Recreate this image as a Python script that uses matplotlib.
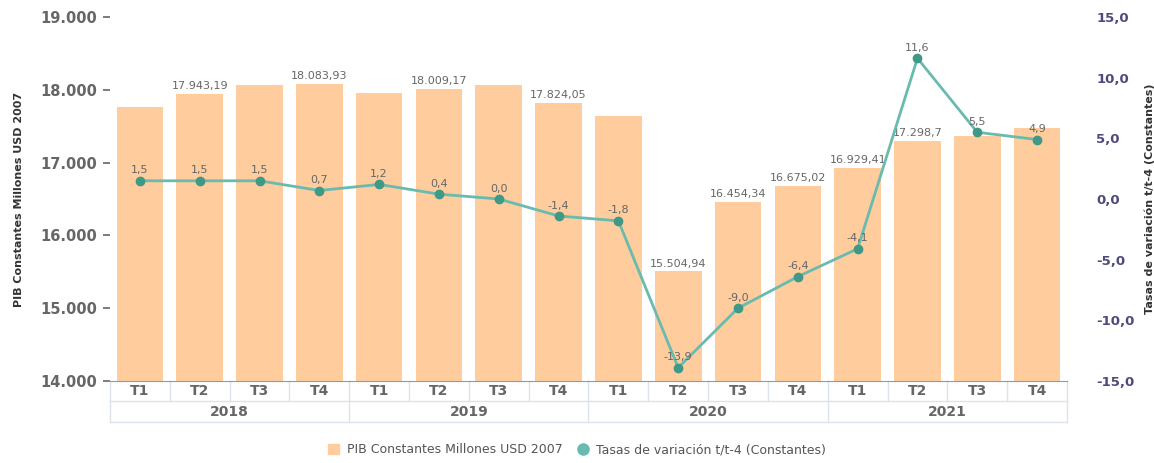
import matplotlib.pyplot as plt
from matplotlib.lines import Line2D
from matplotlib.patches import Patch
import numpy as np

# Data
quarters = ['T1', 'T2', 'T3', 'T4'] * 4
years = ['2018', '2019', '2020', '2021']
pib = [17760, 17943.19, 18060, 18083.93,
       17960, 18009.17, 18068, 17824.05,
       17640, 15504.94, 16454.34, 16675.02,
       16929.41, 17298.7, 17370, 17480]
tasas = [1.5, 1.5, 1.5, 0.7,
         1.2, 0.4, 0.0, -1.4,
         -1.8, -13.9, -9.0, -6.4,
         -4.1, 11.6, 5.5, 4.9]
# bars whose value label is visible in the original
pib_labeled = [1, 3, 5, 7, 9, 10, 11, 12, 13]

bar_color = '#FFCC9E'
line_color = '#68BBAE'
marker_color = '#3F9987'
grey = '#666666'
purple = '#4E4B7C'


def fmt_es(v, dec):
    s = f"{v:,.{dec}f}"
    s = s.replace(',', 'X').replace('.', ',').replace('X', '.')
    return s


def fmt_pib(v):
    s = fmt_es(v, 2)
    if s.endswith('0'):
        s = s[:-1]
    return s


fig = plt.figure(figsize=(11.54, 4.63), dpi=100)
ax = fig.add_axes([0.0953, 0.1771, 0.8293, 0.7862])
ax2 = ax.twinx()

x = np.arange(len(pib))
ax.bar(x, pib, width=0.78, color=bar_color, zorder=2)
ax.set_ylim(14000, 19000)
ax.set_xlim(-0.5, len(pib) - 0.5)
ax.set_yticks([14000, 15000, 16000, 17000, 18000, 19000])
ax.set_yticklabels([fmt_es(v, 0) for v in ax.get_yticks()],
                   fontsize=10.5, fontweight='bold', color=grey)
ax.tick_params(axis='y', length=5, width=1.2, color=grey, pad=4)
ax.set_xticks([])
for s in ['top', 'left', 'right']:
    ax.spines[s].set_visible(False)
ax.spines['bottom'].set_color('#8a9bb0')
ax.spines['bottom'].set_zorder(5)
ax.set_ylabel('PIB Constantes Millones USD 2007', fontsize=8,
              fontweight='bold', color='#333333', labelpad=12)

for i in pib_labeled:
    ax.text(x[i], pib[i] + 40, fmt_pib(pib[i]), ha='center', va='bottom',
            fontsize=8, color=grey, zorder=6)

ax2.plot(x, tasas, color=line_color, lw=2, zorder=3)
ax2.plot(x, tasas, 'o', color=marker_color, ms=6, zorder=4)
ax2.set_ylim(-15, 15)
ax2.set_yticks([-15, -10, -5, 0, 5, 10, 15])
ax2.set_yticklabels([fmt_es(v, 1) for v in ax2.get_yticks()],
                    fontsize=9.5, fontweight='bold', color=purple)
ax2.tick_params(axis='y', length=0, pad=21)
for s in ['top', 'left', 'right', 'bottom']:
    ax2.spines[s].set_visible(False)
ax2.set_ylabel('Tasas de variación t/t-4 (Constantes)', fontsize=8,
               fontweight='bold', color='#333333', labelpad=7)
for i, v in enumerate(tasas):
    ax2.text(x[i], v + 0.45, fmt_es(v, 1), ha='center', va='bottom',
             fontsize=8, color=grey, zorder=6)

# two-level category axis
tr = ax.get_xaxis_transform()
row1 = -0.055
row2 = -0.113
grid_c = '#dde3ea'
ax.plot([-0.5, len(pib) - 0.5], [row1, row1], transform=tr, color=grid_c,
        lw=1, clip_on=False)
ax.plot([-0.5, len(pib) - 0.5], [row2, row2], transform=tr, color=grid_c,
        lw=1, clip_on=False)
for b in np.arange(-0.5, len(pib), 1):
    ax.plot([b, b], [0, row1], transform=tr, color=grid_c, lw=1, clip_on=False)
for b in np.arange(-0.5, len(pib), 4):
    ax.plot([b, b], [row1, row2], transform=tr, color=grid_c, lw=1, clip_on=False)
for i, q in enumerate(quarters):
    ax.text(x[i], row1 / 2, q, transform=tr, ha='center', va='center',
            fontsize=10, fontweight='bold', color=grey)
for j, yr in enumerate(years):
    ax.text(j * 4 + 1.5, (row1 + row2) / 2, yr, transform=tr, ha='center',
            va='center', fontsize=10, fontweight='bold', color=grey)

handles = [Patch(color=bar_color, label='PIB Constantes Millones USD 2007'),
           Line2D([], [], marker='o', ls='none', color=line_color, ms=8,
                  label='Tasas de variación t/t-4 (Constantes)')]
fig.legend(handles=handles, loc='lower center', bbox_to_anchor=(0.5, -0.01),
           ncol=2, frameon=False, fontsize=9, labelcolor='#555555',
           handlelength=0.9, handleheight=0.9, columnspacing=1.2,
           handletextpad=0.6)

fig.savefig('out.png', dpi=100)
